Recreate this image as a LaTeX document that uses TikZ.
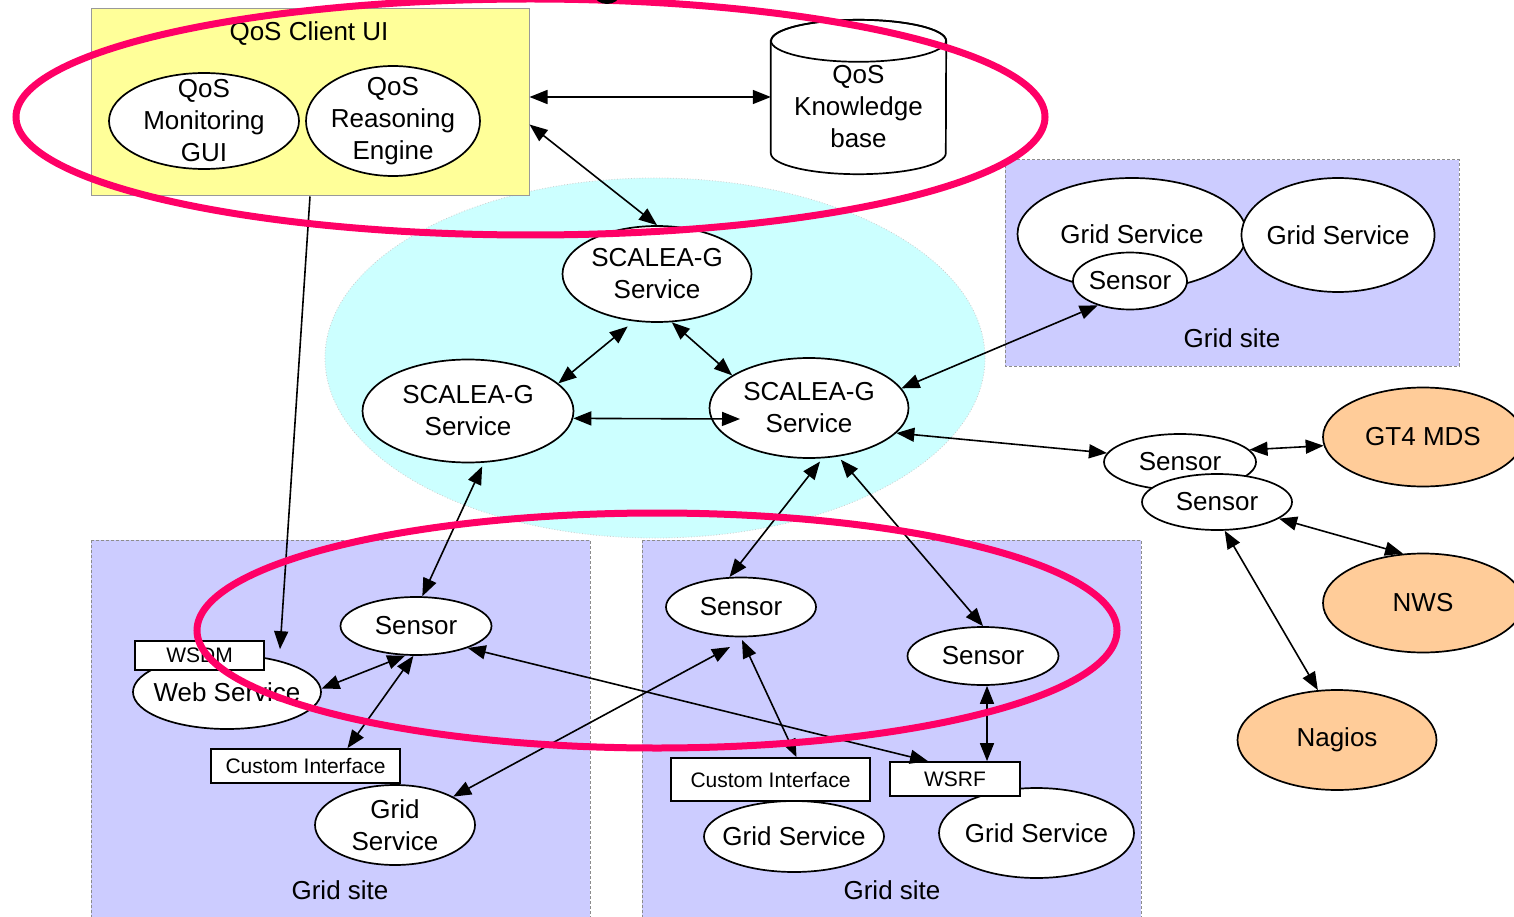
\documentclass[tikz,border=0pt]{standalone}
\usepackage{fontspec}
\setmainfont{Liberation Sans}
\usetikzlibrary{arrows.meta,calc,positioning,shapes.geometric}
\definecolor{SiteBlue}{HTML}{CCCCFF}
\definecolor{CoreCyan}{HTML}{CCFFFF}
\definecolor{ClientYellow}{HTML}{FFFF99}
\definecolor{ExtPeach}{HTML}{FFCC99}
\definecolor{RingRed}{HTML}{FF0066}
\newcommand{\fntmain}{\fontsize{26}{32}\selectfont}
\newcommand{\fntsmall}{\fontsize{21}{24}\selectfont}

\begin{document}
\begin{tikzpicture}[x=1pt,y=-1pt,
      svc/.style={ellipse,draw,fill=white,line width=1.7pt,inner sep=-20pt,align=center,font=\fntmain},
      ext/.style={svc,fill=ExtPeach},
      iface/.style={rectangle,draw,fill=white,line width=1.7pt,inner sep=0pt,font=\fntsmall},
      site/.style={draw=black!45,dash pattern=on 3pt off 2pt,line width=1pt,fill=SiteBlue},
      link/.style={{Triangle[length=18pt,width=14pt]}-{Triangle[length=18pt,width=14pt]},line width=1.6pt},
      ring/.style={draw=RingRed,line width=7pt}]
      \useasboundingbox (0,0) rectangle (1514,917);
      \fill[white] (0,0) rectangle (1514,917);

      \draw[site] (91,540) rectangle (590,940);
      \draw[site] (642,540) rectangle (1141,940);
      \draw[site] (1005,160) rectangle (1459,366);
      \node[font=\fntmain] at (340,890) {Grid site};
      \node[font=\fntmain] at (892,890) {Grid site};
      \node[font=\fntmain] at (1232,338) {Grid site};

      \draw[fill=CoreCyan,draw=black!20,dotted,line width=0.8pt] (655,358) ellipse[x radius=330,y radius=180];

      \node[draw=black!40,fill=ClientYellow,line width=1pt,minimum width=438pt,minimum height=187pt,inner sep=0pt] (ui) at (310,102.5) {};
      \node[font=\fntmain] at (309,34) {QoS Client UI};
      \node[svc,minimum width=190pt,minimum height=96pt] (gui) at (204,121) {QoS\\Monitoring\\GUI};
      \node[svc,minimum width=174pt,minimum height=110pt] (qre) at (393,121) {QoS\\Reasoning\\Engine};

      \node[minimum width=175pt,minimum height=154pt,inner sep=0pt] (kb) at (858.5,97) {};
      \draw[fill=white,line width=1.7pt] ([yshift=-21pt]kb.north west) -- ([yshift=21pt]kb.south west)
      arc[start angle=180,end angle=0,x radius=87.5,y radius=21] -- ([yshift=-21pt]kb.north east)
      arc[start angle=0,end angle=-180,x radius=87.5,y radius=21] -- cycle;
      \draw[line width=1.7pt] ([yshift=-21pt]kb.north) ellipse[x radius=87.5,y radius=21];
      \node[align=center,font=\fntmain] at (858.5,107) {QoS\\Knowledge\\base};

      \node[svc,minimum width=189pt,minimum height=96pt] (sgT) at (657,274) {SCALEA-G\\Service};
      \node[svc,minimum width=211pt,minimum height=103pt] (sgL) at (468,411) {SCALEA-G\\Service};
      \node[svc,minimum width=199pt,minimum height=100pt] (sgR) at (809,408) {SCALEA-G\\Service};

      \node[svc,minimum width=229pt,minimum height=112pt] (gsA) at (1132,234) {Grid Service};
      \node[svc,minimum width=193pt,minimum height=114pt] (gsB) at (1338,235) {Grid Service};
      \node[svc,minimum width=114pt,minimum height=57pt] (sTR) at (1130,281) {Sensor};

      \node[svc,minimum width=151pt,minimum height=58pt] (sBL) at (416,626) {Sensor};
      \node[svc,minimum width=188pt,minimum height=74pt] (ws) at (227,692) {Web Service};
      \node[iface,minimum width=129pt,minimum height=29pt] (wsdm) at (199.5,655.5) {WSDM};
      \node[svc,minimum width=160pt,minimum height=80pt] (gs1) at (395,825) {Grid\\Service};
      \node[iface,minimum width=189pt,minimum height=34pt] (ci1) at (305.5,766) {Custom Interface};

      \node[svc,minimum width=150pt,minimum height=59pt] (sM) at (741,607) {Sensor};
      \node[svc,minimum width=151pt,minimum height=58pt] (sR) at (983,656) {Sensor};
      \node[svc,minimum width=180pt,minimum height=71pt] (gs2) at (794,836.5) {Grid Service};
      \node[svc,minimum width=195pt,minimum height=90pt] (gs3) at (1036.5,833) {Grid Service};
      \node[iface,minimum width=199pt,minimum height=43pt] (ci2) at (770.5,779.5) {Custom Interface};
      \node[iface,minimum width=130pt,minimum height=34pt] (wsrf) at (955,779) {WSRF};

      \node[svc,minimum width=152pt,minimum height=56pt] (sA) at (1180,462) {Sensor};
      \node[svc,minimum width=150pt,minimum height=56pt] (sB) at (1217,502) {Sensor};
      \node[ext,minimum width=200pt,minimum height=99pt] (gt) at (1423,437) {GT4 MDS};
      \node[ext,minimum width=200pt,minimum height=99pt] (nws) at (1423,603) {NWS};
      \node[ext,minimum width=199pt,minimum height=100pt] (nag) at (1337,740) {Nagios};

      \draw[link] (ui.east |- kb.west) -- (kb.west);
      \draw[link] ([yshift=-22pt]ui.east) -- (sgT.north);
      \draw[link,shorten <=8pt] (sgT.-116) -- (sgL.17);
      \draw[link] (sgT.-73) -- (sgR.157);
      \draw[link] (sgL.-4) -- ($(sgR)+(-69,11)$);
      \draw[link,shorten <=4pt] (sgL.-73) -- (sBL.78);
      \draw[link,shorten <=4pt] (sgR.-75) -- (sM.111);
      \draw[link,shorten <=4pt] (sgR.-59) -- (sR.north);
      \draw[link] (sgR.12) -- (sTR.-143);
      \draw[link] (sgR.-16) -- (sA.173);
      \draw[link] (sA.10) -- (gt.185);
      \draw[link] (sB.-15) -- (nws.112);
      \draw[link] (sB.-75) -- (nag.111);
      \draw[-{Triangle[length=18pt,width=14pt]},line width=1.6pt] (ui.south) -- ($(ws.north)+(53,-5)$);
      \draw[link] (sBL.-110) -- (ws.2);
      \draw[link] (sBL.-95) -- ([xshift=42pt]ci1.north);
      \draw[link] (sBL.-23) -- ([xshift=-27pt]wsrf.north);
      \draw[link] ($(sM)+(-11,40)$) -- (gs1.26);
      \draw[link] ($(sM)+(1,33)$) -- ([xshift=26pt]ci2.north);
      \draw[link] ([xshift=4pt]sR.south) -- ([xshift=32pt]wsrf.north);

      \draw[ring] (530.5,117) ellipse[x radius=514.5,y radius=118];
      \draw[ring] (657,630.5) ellipse[x radius=460,y radius=117.5];
      \fill (607,-6) ellipse[x radius=13,y radius=10];
    \end{tikzpicture}
\end{document}
